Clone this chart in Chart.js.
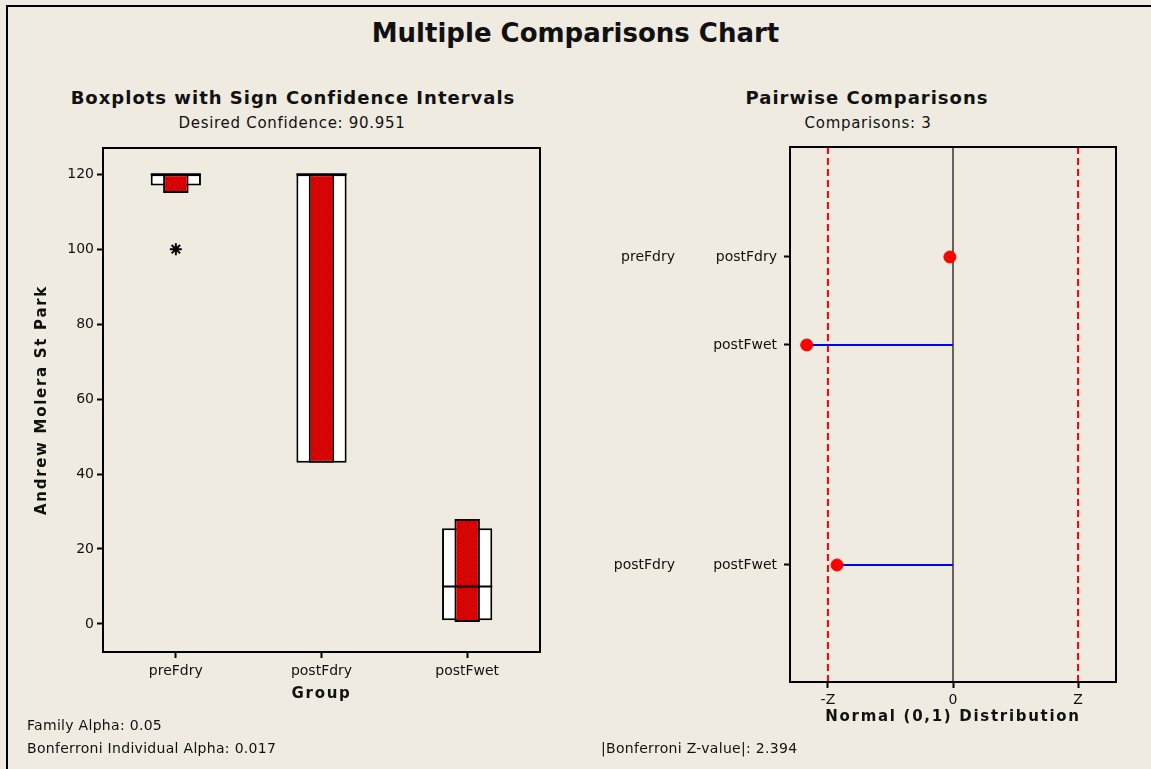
<!DOCTYPE html>
<html>
<head>
<meta charset="utf-8">
<script src="https://cdn.jsdelivr.net/npm/chart.js@4.4.0/dist/chart.umd.min.js"></script>
<style>
html, body { margin: 0; padding: 0; background: #efebe1; }
#page { position: relative; width: 1151px; height: 769px; overflow: hidden; background: #efebe1;
        font-family: "DejaVu Sans", sans-serif; color: #111; }
#frame { position: absolute; left: 6px; top: 5px; width: 1160px; height: 780px;
         border-left: 2px solid #000; border-top: 2px solid #000; }
.txt { position: absolute; white-space: nowrap; line-height: 20px; }
.ctr { width: 600px; text-align: center; }
#mainTitle { top: 18px; left: 0; width: 1151px; text-align: center; font-weight: bold; font-size: 26px; line-height: 30px; }
.ptitle { font-weight: bold; font-size: 18px; letter-spacing: 1px; }
.psub { font-size: 15px; letter-spacing: 0.7px; }
.note { font-size: 14px; letter-spacing: 0.3px; }
#leftWrap { position: absolute; left: 0; top: 140px; width: 586px; height: 600px; }
#rightWrap { position: absolute; left: 586px; top: 140px; width: 565px; height: 600px; }
</style>
</head>
<body>
<div id="page">
  <div id="frame"></div>
  <div id="mainTitle" class="txt">Multiple Comparisons Chart</div>
  <div class="txt ctr ptitle" style="left:-7px; top:88px;">Boxplots with Sign Confidence Intervals</div>
  <div class="txt ctr psub" style="left:-8px; top:113px;">Desired Confidence: 90.951</div>
  <div class="txt ctr ptitle" style="left:567px; top:88px;">Pairwise Comparisons</div>
  <div class="txt ctr psub" style="left:568px; top:113px;">Comparisons: 3</div>
  <div id="leftWrap"><canvas id="boxChart"></canvas></div>
  <div id="rightWrap"><canvas id="pairChart"></canvas></div>
  <div class="txt note" style="left:27px; top:715px;">Family Alpha: 0.05</div>
  <div class="txt note" style="left:27px; top:738px;">Bonferroni Individual Alpha: 0.017</div>
  <div class="txt note" style="left:601px; top:738px;">|Bonferroni Z-value|: 2.394</div>
</div>
<script>
// boxplot data
const groups = ['preFdry', 'postFdry', 'postFwet'];
const q1 = [117, 43, 1];
const q3 = [120, 120, 25.5];
const medians = [120, 120, 10];
const ciLow = [115, 43, 0.5];
const ciHigh = [120, 120, 28];
const outliers = [100, null, null];
const boxTicks = [0, 20, 40, 60, 80, 100, 120];

// pairwise comparisons
const compGroup = ['preFdry', '', 'postFdry'];
const compLabels = ['postFdry', 'postFwet', 'postFwet'];
const compRow = [1, 2, 4.5];
const compZ = [-0.06, -2.80, -2.22];
const zCrit = 2.394;
const zTickLabels = ['-Z', '0', 'Z'];

const FONT = '"DejaVu Sans", sans-serif';
const tickFont = { family: FONT, size: 14 };
const axisTitleFont = { family: FONT, size: 15, weight: 'bold' };

Chart.defaults.animation = false;
Chart.defaults.color = '#111';

function hatch() {
    const c = document.createElement('canvas');
    c.width = 4; c.height = 4;
    const g = c.getContext('2d');
    g.fillStyle = '#e00000';
    g.fillRect(0, 0, 4, 4);
    g.fillStyle = '#a80000';
    g.fillRect(0, 0, 1, 1);
    g.fillRect(2, 2, 1, 1);
    return g.createPattern(c, 'repeat');
}

// spaced-out bold axis titles, like the original
function spacedTitle(s) {
    s.paddingTop = 0;
    s.paddingBottom = 0;
    if (s._spaced) return;
    s._spaced = true;
    const draw = s.drawTitle;
    s.drawTitle = function () {
        const c = this.ctx;
        c.save();
        c.letterSpacing = '1.7px';
        draw.call(this);
        c.restore();
    };
}

const framePlugin = {
    id: 'frame',
    afterDraw(chart) {
        const a = chart.chartArea, ctx = chart.ctx;
        ctx.save();
        ctx.strokeStyle = '#000';
        ctx.lineWidth = 2;
        ctx.strokeRect(a.left, a.top, a.right - a.left, a.bottom - a.top);
        ctx.restore();
    }
};

const medianPlugin = {
    id: 'medians',
    afterDatasetsDraw(chart) {
        const ctx = chart.ctx, y = chart.scales.y;
        const boxes = chart.getDatasetMeta(0).data;
        ctx.save();
        ctx.strokeStyle = '#000';
        ctx.lineWidth = 2;
        boxes.forEach((b, i) => {
            const py = y.getPixelForValue(medians[i]);
            ctx.beginPath();
            ctx.moveTo(b.x - b.width / 2, py);
            ctx.lineTo(b.x + b.width / 2, py);
            ctx.stroke();
        });
        ctx.restore();
    }
};

const refLinePlugin = {
    id: 'refLines',
    beforeDatasetsDraw(chart) {
        const ctx = chart.ctx, a = chart.chartArea, x = chart.scales.x;
        ctx.save();
        [-zCrit, 0, zCrit].forEach(v => {
            const px = x.getPixelForValue(v);
            ctx.beginPath();
            if (v === 0) {
                ctx.strokeStyle = '#333';
                ctx.lineWidth = 1.5;
                ctx.setLineDash([]);
            } else {
                ctx.strokeStyle = '#ff0000';
                ctx.lineWidth = 2;
                ctx.setLineDash([7, 4]);
            }
            ctx.moveTo(px, a.top);
            ctx.lineTo(px, a.bottom);
            ctx.stroke();
        });
        ctx.restore();
    }
};

new Chart(document.getElementById('boxChart'), {
    type: 'bar',
    data: {
        labels: groups,
        datasets: [{
            label: 'IQR',
            data: groups.map((g, i) => [q1[i], q3[i]]),
            backgroundColor: '#fff',
            borderColor: '#000',
            borderWidth: 2,
            borderSkipped: false,
            barPercentage: 0.345,
            categoryPercentage: 1,
            grouped: false,
            order: 3
        }, {
            label: 'Sign CI',
            data: groups.map((g, i) => [ciLow[i], ciHigh[i]]),
            backgroundColor: hatch(),
            borderColor: '#000',
            borderWidth: 2,
            borderSkipped: false,
            barPercentage: 0.175,
            categoryPercentage: 1,
            grouped: false,
            order: 2
        }, {
            type: 'line',
            label: 'Outlier',
            data: outliers,
            showLine: false,
            pointStyle: 'star',
            pointRadius: 6,
            borderColor: '#000',
            borderWidth: 2,
            order: 1
        }]
    },
    options: {
        responsive: true,
        maintainAspectRatio: false,
        layout: { padding: { left: 0, right: 46, top: 7, bottom: 0 } },
        plugins: { legend: { display: false }, tooltip: { enabled: false } },
        scales: {
            x: {
                offset: true,
                grid: { offset: false, drawOnChartArea: false, tickLength: 6, tickColor: '#000', tickWidth: 2 },
                border: { color: '#000', width: 2 },
                ticks: { font: tickFont, color: '#111', padding: 5 },
                title: { display: true, text: 'Group', font: axisTitleFont, color: '#111', padding: { top: 0, bottom: 37 } },
                afterFit: s => { spacedTitle(s); s.paddingLeft = 0; s.paddingRight = 0; s.height = 88; }
            },
            y: {
                min: -7.5,
                max: 127,
                grid: { drawOnChartArea: false, tickLength: 6, tickColor: '#000', tickWidth: 2 },
                border: { color: '#000', width: 2 },
                ticks: { font: tickFont, color: '#111', padding: 3 },
                afterBuildTicks: s => { s.ticks = boxTicks.map(v => ({ value: v })); },
                title: { display: true, text: 'Andrew Molera St Park', font: axisTitleFont, color: '#111', padding: { top: 33, bottom: 0 } },
                afterFit: s => { spacedTitle(s); s.width = 103; }
            }
        }
    },
    plugins: [medianPlugin, framePlugin]
});

const segments = compZ.map((z, i) => ({
    type: 'line',
    data: [{ x: z, y: compRow[i] }, { x: 0, y: compRow[i] }],
    borderColor: '#0000ff',
    borderWidth: 2,
    pointRadius: 0,
    showLine: true,
    order: 2
}));

new Chart(document.getElementById('pairChart'), {
    type: 'scatter',
    data: {
        datasets: segments.concat([{
            label: 'Z',
            data: compZ.map((z, i) => ({ x: z, y: compRow[i] })),
            backgroundColor: '#ff0000',
            borderColor: '#ff0000',
            pointRadius: 6,
            order: 1
        }])
    },
    options: {
        responsive: true,
        maintainAspectRatio: false,
        layout: { padding: { left: 0, right: 35, top: 7, bottom: 0 } },
        plugins: { legend: { display: false }, tooltip: { enabled: false } },
        scales: {
            x: {
                type: 'linear',
                min: -3.12,
                max: 3.12,
                grid: { drawOnChartArea: false, tickLength: 6, tickColor: '#000', tickWidth: 2 },
                border: { color: '#000', width: 2 },
                afterBuildTicks: s => { s.ticks = [-zCrit, 0, zCrit].map(v => ({ value: v })); },
                ticks: { font: tickFont, color: '#111', padding: 4, callback: (v, i) => zTickLabels[i] },
                title: { display: true, text: 'Normal (0,1) Distribution', font: axisTitleFont, color: '#111', padding: { top: 0, bottom: 14 } },
                afterFit: s => { spacedTitle(s); s.paddingLeft = 0; s.paddingRight = 0; s.height = 58; }
            },
            y: {
                type: 'linear',
                position: 'left',
                weight: 0,
                min: -0.25,
                max: 5.83,
                reverse: true,
                grid: { drawOnChartArea: false, tickLength: 6, tickColor: '#000', tickWidth: 2 },
                border: { color: '#000', width: 2 },
                afterBuildTicks: s => { s.ticks = compRow.map(v => ({ value: v })); },
                ticks: { font: tickFont, color: '#111', padding: 7, callback: (v, i) => compLabels[i] },
                afterFit: s => { s.paddingTop = 0; s.paddingBottom = 0; s.width = 110; }
            },
            y2: {
                type: 'linear',
                position: 'left',
                weight: 1,
                min: -0.25,
                max: 5.83,
                reverse: true,
                grid: { display: false, drawTicks: false },
                border: { display: false },
                afterBuildTicks: s => { s.ticks = compRow.map(v => ({ value: v })); },
                ticks: { font: tickFont, color: '#111', padding: 5, callback: (v, i) => compGroup[i] },
                afterFit: s => { s.paddingTop = 0; s.paddingBottom = 0; s.width = 94; }
            }
        }
    },
    plugins: [refLinePlugin, framePlugin]
});
</script>
</body>
</html>
